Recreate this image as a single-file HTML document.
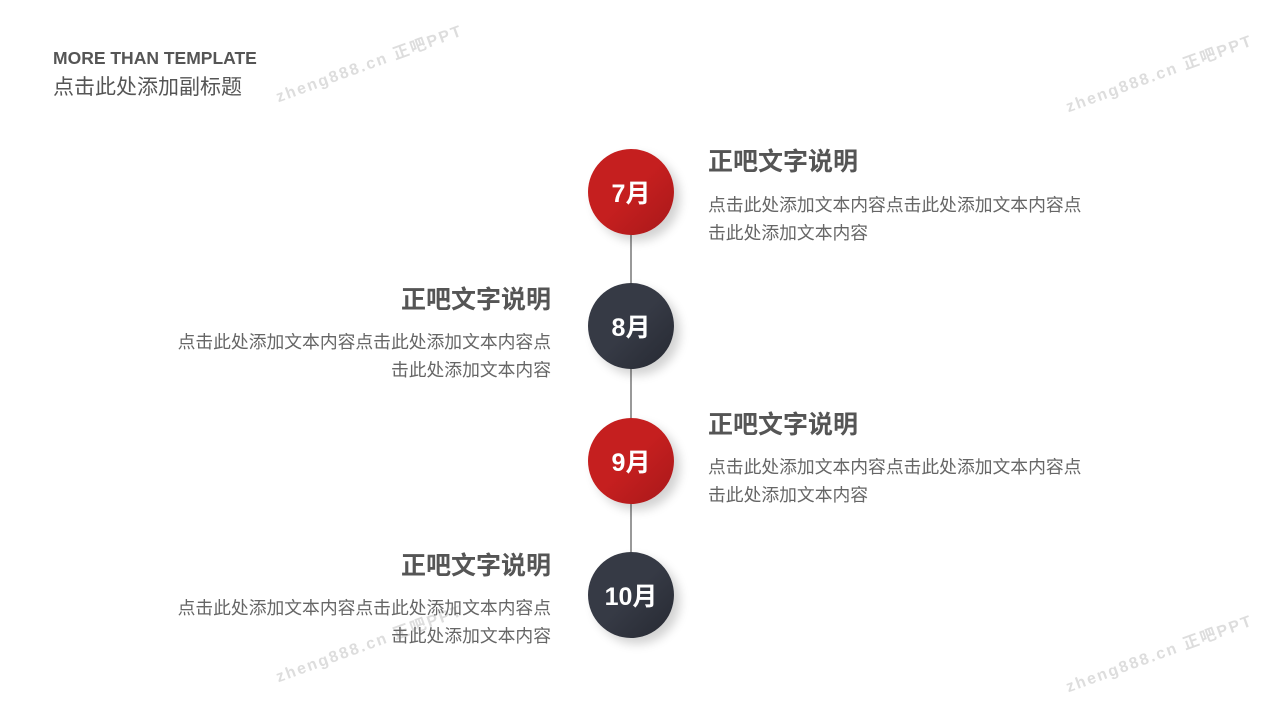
<!DOCTYPE html><html><head><meta charset="utf-8"><style>
body{margin:0;width:1280px;height:720px;background:#fff;position:relative;overflow:hidden;font-family:"Liberation Sans","Noto Sans CJK SC",sans-serif}
.a{position:absolute;white-space:nowrap}
.c{position:absolute;width:86px;height:86px;border-radius:50%;left:588px;color:#fff;font-weight:bold;font-size:25px;display:flex;align-items:center;justify-content:center;box-shadow:6px 6px 10px rgba(0,0,0,.18)}
.r{background:linear-gradient(135deg,#c51f1f 50%,#a8181a)}
.k{background:linear-gradient(135deg,#363a45 50%,#262932)}
.t{font-size:25px;font-weight:bold;color:#555}
.b{font-size:17.8px;color:#666;line-height:28px}
.R{text-align:right;right:729px}
.wm{position:absolute;color:#ddd;font-size:16px;font-weight:bold;letter-spacing:2px;transform:rotate(-20deg)}
</style></head><body>
<div class="a" style="left:53px;top:48px;font-size:17.5px;font-weight:bold;color:#555">MORE THAN TEMPLATE</div>
<div class="a" style="left:53px;top:71px;font-size:21px;color:#555">点击此处添加副标题</div>
<div class="wm" style="left:270px;top:50px">zheng888.cn 正吧PPT</div>
<div class="wm" style="left:1060px;top:60px">zheng888.cn 正吧PPT</div>
<div class="wm" style="left:270px;top:630px">zheng888.cn 正吧PPT</div>
<div class="wm" style="left:1060px;top:640px">zheng888.cn 正吧PPT</div>
<div class="a" style="left:630px;top:235px;width:2px;height:317px;background:#999"></div>
<div class="c r" style="top:149px">7月</div>
<div class="c k" style="top:283px">8月</div>
<div class="c r" style="top:418px">9月</div>
<div class="c k" style="top:552px">10月</div>
<div class="a t" style="left:708px;top:142px">正吧文字说明</div>
<div class="a b" style="left:708px;top:191px">点击此处添加文本内容点击此处添加文本内容点<br>击此处添加文本内容</div>
<div class="a t R" style="top:280px">正吧文字说明</div>
<div class="a b R" style="top:328px">点击此处添加文本内容点击此处添加文本内容点<br>击此处添加文本内容</div>
<div class="a t" style="left:708px;top:405px">正吧文字说明</div>
<div class="a b" style="left:708px;top:453px">点击此处添加文本内容点击此处添加文本内容点<br>击此处添加文本内容</div>
<div class="a t R" style="top:546px">正吧文字说明</div>
<div class="a b R" style="top:594px">点击此处添加文本内容点击此处添加文本内容点<br>击此处添加文本内容</div>
</body></html>
